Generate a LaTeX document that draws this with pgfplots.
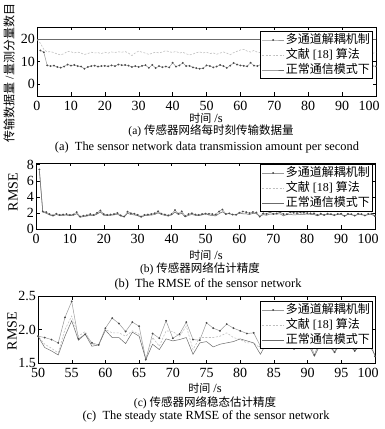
\documentclass[border=0pt]{standalone}
\usepackage{fontspec}
\setmainfont{Liberation Serif}
\newfontfamily\cjk{Noto Sans CJK SC}
\usepackage{pgfplots}
\usepackage{pgfplotstable}
\pgfplotsset{compat=1.18}
\definecolor{cmulti}{gray}{0.6}
\definecolor{cmark}{gray}{0.3}
\definecolor{cref}{gray}{0.75}
\definecolor{cnorm}{gray}{0.42}

\pgfplotstableread{
t v
1 15.0
2 14.2
3 8.3
4 8.0
5 8.2
6 7.6
7 7.3
8 7.8
9 8.7
10 8.2
11 8.5
12 8.0
13 7.8
14 6.8
15 7.6
16 8.0
17 8.2
18 7.8
19 8.0
20 8.1
21 7.9
22 8.3
23 8.0
24 8.7
25 8.4
26 8.5
27 8.2
28 7.6
29 8.0
30 7.6
31 8.1
32 8.4
33 7.2
34 8.5
35 7.1
36 8.0
37 7.5
38 7.8
39 7.4
40 9.5
41 7.8
42 8.3
43 9.4
44 8.0
45 8.1
46 7.4
47 7.1
48 6.8
49 7.0
50 8.3
51 8.0
52 7.4
53 7.8
54 8.5
55 8.0
56 7.2
57 8.2
58 9.4
59 8.7
60 8.3
61 8.1
62 7.9
63 9.5
64 8.2
65 8.0
66 8.6
67 8.0
68 7.6
69 8.2
70 8.0
71 7.5
72 8.4
73 8.1
74 7.8
75 8.3
76 7.9
77 8.5
78 8.0
79 7.4
80 8.2
81 8.0
82 7.7
83 8.4
84 8.1
85 7.6
86 8.3
87 8.0
88 7.8
89 8.6
90 8.1
91 7.5
92 8.2
93 8.0
94 7.7
95 8.4
96 8.1
97 7.8
98 8.3
99 8.0
100 7.9
}\multiA

\pgfplotstableread{
t v
0 20.0
1 18.2
2 15.5
3 14.3
4 14.5
5 14.0
6 13.4
7 13.0
8 13.6
9 14.6
10 14.4
11 13.9
12 14.3
13 13.8
14 13.2
15 13.6
16 14.2
17 13.9
18 14.0
19 13.6
20 14.2
21 13.8
22 14.3
23 14.1
24 14.4
25 14.2
26 14.5
27 13.8
28 12.7
29 13.9
30 14.7
31 14.2
32 13.8
33 13.2
34 13.8
35 14.2
36 13.9
37 14.3
38 14.9
39 14.4
40 14.1
41 14.6
42 13.8
43 14.2
44 13.5
45 13.0
46 13.4
47 14.0
48 14.3
49 13.9
50 14.2
51 13.6
52 13.9
53 13.3
54 13.8
55 14.3
56 13.8
57 13.1
58 14.0
59 14.6
60 15.2
61 15.5
62 14.7
63 14.3
64 15.0
65 14.2
66 14.0
67 13.6
68 14.2
69 14.5
70 13.8
71 14.1
72 13.5
73 14.3
74 14.0
75 13.7
76 14.4
77 14.1
78 13.6
79 14.2
80 14.0
81 13.8
82 14.5
83 14.1
84 13.7
85 14.2
86 14.0
87 13.5
88 14.3
89 14.1
90 13.8
91 14.4
92 14.0
93 13.6
94 14.2
95 14.1
96 13.8
97 14.3
98 14.0
99 13.7
100 14.1
}\refA

\pgfplotstableread{
t multi ref norm
1 7.4 7.3 7.2
2 2.2 2.1 2.1
3 2.1 2.0 1.95
4 1.85 1.8 1.75
5 1.7 1.65 1.6
6 1.9 1.85 1.8
7 1.75 1.7 1.65
8 1.8 1.75 1.7
9 1.85 1.8 1.72
10 1.75 1.7 1.65
11 1.8 1.75 1.7
12 2.1 2.0 1.9
13 1.55 1.5 1.45
14 1.65 1.6 1.55
15 1.7 1.65 1.6
16 1.85 1.8 1.7
17 1.75 1.7 1.65
18 2.0 1.9 1.85
19 2.3 2.2 2.1
20 1.85 1.8 1.7
21 1.75 1.7 1.65
22 1.8 1.75 1.7
23 1.85 1.8 1.75
24 2.0 1.95 1.85
25 1.7 1.65 1.6
26 1.55 1.5 1.5
27 2.15 2.05 1.95
28 1.95 1.9 1.8
29 1.9 1.8 1.75
30 1.75 1.7 1.65
31 1.55 1.5 1.45
32 1.75 1.7 1.65
33 1.8 1.75 1.7
34 1.85 1.8 1.72
35 1.95 1.9 1.8
36 2.2 2.1 2.0
37 1.9 1.85 1.8
38 1.8 1.75 1.7
39 1.7 1.65 1.6
40 1.85 1.8 1.75
41 2.35 2.2 2.1
42 1.9 1.85 1.8
43 2.2 2.05 1.95
44 1.6 1.55 1.5
45 1.85 1.8 1.7
46 1.95 1.9 1.8
47 1.8 1.75 1.7
48 1.75 1.7 1.65
49 1.85 1.8 1.75
50 1.9 1.9 1.9
51 1.88 1.78 1.73
52 1.85 1.72 1.68
53 1.80 1.65 1.62
54 2.18 2.0 1.9
55 2.42 2.2 2.13
56 1.86 1.9 1.84
57 1.93 1.97 1.93
58 1.80 1.78 1.75
59 1.77 1.77 1.77
60 2.02 2.0 1.99
61 2.17 1.95 1.88
62 2.09 1.95 1.88
63 1.97 1.9 1.79
64 2.11 1.98 1.96
65 2.05 1.93 1.9
66 1.55 1.57 1.55
67 1.94 1.88 1.78
68 1.87 1.75 1.70
69 2.13 1.98 1.86
70 1.87 1.97 1.83
71 1.93 1.9 1.85
72 2.11 2.05 1.88
73 1.85 1.7 1.63
74 1.84 1.88 1.8
75 2.1 1.88 1.82
76 2.02 1.88 1.74
77 1.98 1.9 1.78
78 2.08 1.95 1.8
79 2.02 1.88 1.82
80 1.98 1.85 1.86
81 1.94 1.8 1.83
82 1.95 1.8 1.8
83 1.75 1.72 1.63
84 1.9 1.8 1.82
85 1.74 1.72 1.72
86 1.9 1.82 1.83
87 1.85 1.8 1.8
88 1.72 1.7 1.7
89 1.88 1.82 1.82
90 1.9 1.84 1.8
91 1.62 1.62 1.6
92 1.88 1.82 1.8
93 1.84 1.8 1.78
94 1.66 1.66 1.66
95 1.9 1.84 1.8
96 1.85 1.8 1.78
97 1.68 1.7 1.68
98 1.88 1.82 1.78
99 1.9 1.84 1.8
100 1.6 1.6 1.62
}\rmse

\pgfplotsset{
  myax/.style={
    scale only axis, anchor=south west,
    axis line style={line width=0.9pt},
    every tick/.style={black, line width=0.4pt},
    major tick length=3.5pt, tick align=inside,
    ticklabel style={font=\fontsize{14}{14}\selectfont},
    /pgf/number format/assume math mode=true,
    yticklabel style={inner sep=0pt, xshift=-2pt},
    xticklabel style={inner sep=0pt, yshift=-5.2pt},
    extra x tick style={xticklabel style={xshift=-7pt}},
    legend cell align=left,
    legend image code/.code={\draw[mark repeat=2,mark phase=2,##1] plot coordinates {(0pt,0pt) (11pt,0pt) (22pt,0pt)};},
    legend style={anchor=north east, draw=black, line width=1pt, fill=white,
      font=\fontsize{12}{12}\selectfont, inner sep=1pt,
      nodes={inner sep=1.5pt, text height=9.5pt, text depth=2.5pt}, row sep=0pt},
  },
  pmulti/.style={cmulti, line width=0.5pt, mark=*, mark size=0.65pt, mark options={draw=cmark, fill=cmark, solid}},
  pref/.style={cref, line width=0.6pt, dash pattern=on 2pt off 1.5pt},
  pnorm/.style={cnorm, line width=0.5pt},
}

\begin{document}
\begin{tikzpicture}[x=1pt,y=1pt, lbl/.style={inner sep=0pt}]
\useasboundingbox (0,0) rectangle (385,429);

% (a)
\begin{axis}[myax, at={(37pt,333pt)}, width=339pt, height=69pt,
  xmin=0, xmax=100, ymin=-5.4, ymax=25.5,
  xtick={0,10,...,90}, extra x ticks={100}, ytick={0,10,20},
  legend style={at={(0.991,0.942)}}]
\addplot[pmulti] table[x=t,y=v]{\multiA};
\addplot[pref] table[x=t,y=v]{\refA};
\addplot[pnorm] coordinates {(0,20) (100,20)};
\legend{{\cjk 多通道解耦机制}, {\cjk 文献} [18] {\cjk 算法}, {\cjk 正常通信模式下}}
\end{axis}

% (b)
\begin{axis}[myax, at={(36pt,200pt)}, width=339pt, height=66pt,
  xmin=0, xmax=100, ymin=0, ymax=8.2,
  xtick={0,10,...,90}, extra x ticks={100}, ytick={0,2,4,6,8},
  legend style={at={(0.994,0.985)}}]
\addplot[pmulti] table[x=t,y=multi]{\rmse};
\addplot[pref] table[x=t,y=ref]{\rmse};
\addplot[pnorm] table[x=t,y=norm]{\rmse};
\legend{{\cjk 多通道解耦机制}, {\cjk 文献} [18] {\cjk 算法}, {\cjk 正常通信模式下}}
\end{axis}

% (c)
\begin{axis}[myax, at={(38pt,66pt)}, width=337pt, height=67pt,
  xmin=50, xmax=100, ymin=1.5, ymax=2.5,
  xtick={50,55,...,95}, extra x ticks={100}, ytick={1.5,2.0,2.5},
  yticklabel style={/pgf/number format/.cd, fixed, fixed zerofill, precision=1},
  legend style={at={(0.994,0.925)}}]
\addplot[pmulti] table[x=t,y=multi]{\rmse};
\addplot[pref] table[x=t,y=ref]{\rmse};
\addplot[pnorm] table[x=t,y=norm]{\rmse};
\legend{{\cjk 多通道解耦机制}, {\cjk 文献} [18] {\cjk 算法}, {\cjk 正常通信模式下}}
\end{axis}

% labels
\node[lbl, rotate=90, font=\fontsize{12}{12}\selectfont] at (9,356) {{\cjk 传输数据量} /{\cjk 量测分量数目}};
\node[lbl, rotate=90, font=\fontsize{14}{14}\selectfont] at (13,237) {RMSE};
\node[lbl, rotate=90, font=\fontsize{14}{14}\selectfont] at (12,98) {RMSE};

\node[lbl, font=\fontsize{12.5}{13}\selectfont] at (206,310.5) {{\fontsize{11}{12}\cjk 时间} /s};
\node[lbl, font=\fontsize{11.5}{12}\selectfont] at (211,298.5) {(a) {\cjk 传感器网络每时刻传输数据量}};
\node[lbl, font=\fontsize{12.4}{13}\selectfont] at (207,281.5) {(a)\ \ The sensor network data transmission amount per second};

\node[lbl, font=\fontsize{12.5}{13}\selectfont] at (206,173.5) {{\fontsize{11}{12}\cjk 时间} /s};
\node[lbl, font=\fontsize{11.5}{12}\selectfont] at (200,160.5) {(b) {\cjk 传感器网络估计精度}};
\node[lbl, font=\fontsize{12.4}{13}\selectfont] at (208,145) {(b)\ \ The RMSE of the sensor network};

\node[lbl, font=\fontsize{12.5}{13}\selectfont] at (205,41) {{\fontsize{11}{12}\cjk 时间} /s};
\node[lbl, font=\fontsize{11.5}{12}\selectfont] at (205,26) {(c) {\cjk 传感器网络稳态估计精度}};
\node[lbl, font=\fontsize{12.4}{13}\selectfont] at (206,13) {(c)\ \ The steady state RMSE of the sensor network};
\end{tikzpicture}
\end{document}
